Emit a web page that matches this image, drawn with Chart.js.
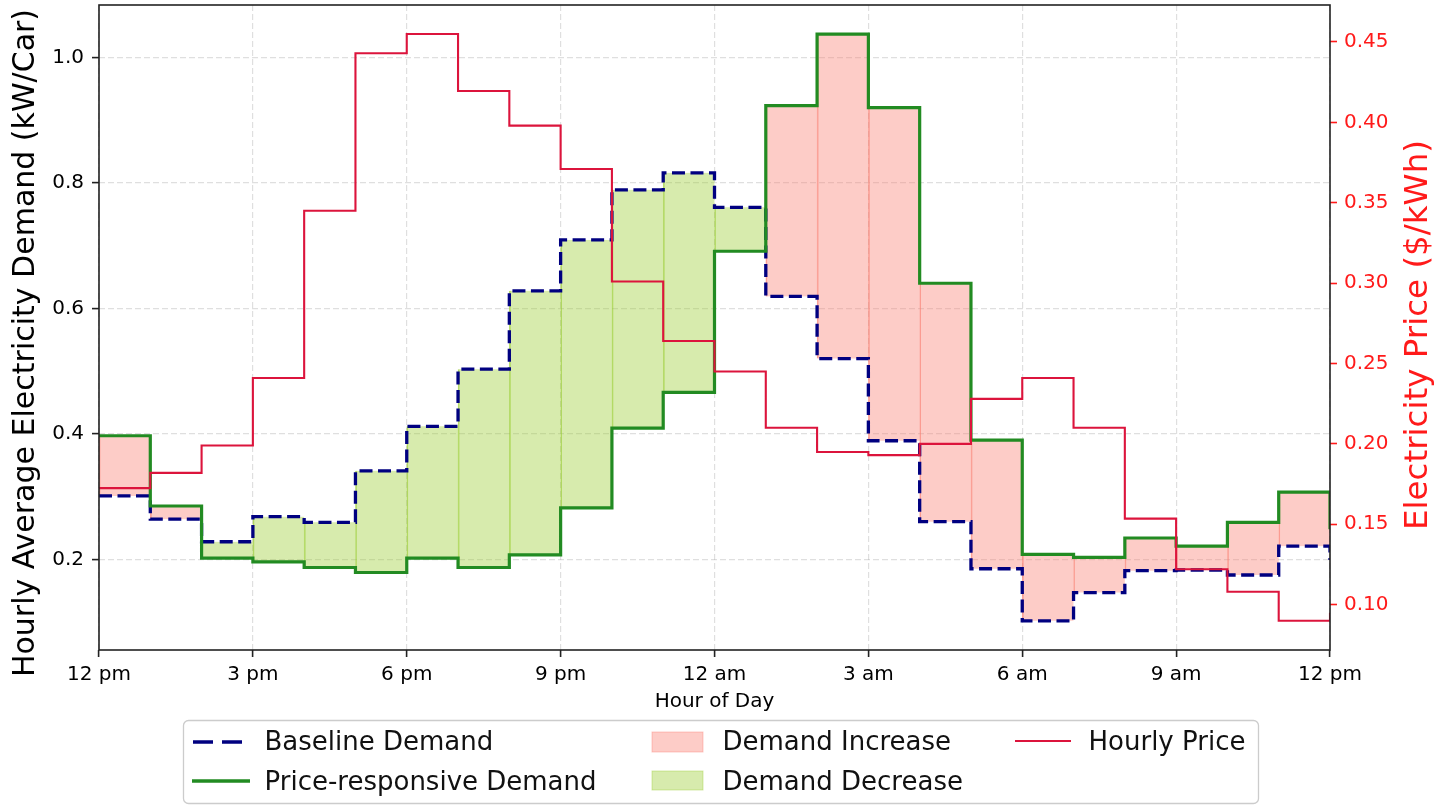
<!DOCTYPE html>
<html>
<head>
<meta charset="utf-8">
<script src="https://cdn.jsdelivr.net/npm/chart.js@4.4.1/dist/chart.umd.min.js"></script>
<style>
  html, body { margin: 0; padding: 0; background: #ffffff; }
  #wrap { position: relative; width: 1437px; height: 805px; overflow: hidden; }
  #chart { position: absolute; left: 0; top: 0; }
  #legend { position: absolute; left: 0; top: 0; pointer-events: none; }
</style>
</head>
<body>
<div id="wrap">
  <canvas id="chart"></canvas>
  <svg id="legend" width="1437" height="805" xmlns="http://www.w3.org/2000/svg"></svg>
</div>
<script>
// ---------------- data ----------------
const hours = [0, 1, 2, 3, 4, 5, 6, 7, 8, 9, 10, 11, 12, 13, 14, 15, 16, 17, 18, 19, 20, 21, 22, 23, 24];
const xTickValues = [0, 3, 6, 9, 12, 15, 18, 21, 24];
const xTickLabels = ['12 pm', '3 pm', '6 pm', '9 pm', '12 am', '3 am', '6 am', '9 am', '12 pm'];
const demandTickValues = [0.2, 0.4, 0.6, 0.8, 1.0];
const demandTickLabels = ['0.2', '0.4', '0.6', '0.8', '1.0'];
const priceTickValues = [0.10, 0.15, 0.20, 0.25, 0.30, 0.35, 0.40, 0.45];
const priceTickLabels = ['0.10', '0.15', '0.20', '0.25', '0.30', '0.35', '0.40', '0.45'];

const baselineDemand = [0.301, 0.264, 0.228, 0.268, 0.259, 0.341, 0.412, 0.503, 0.628, 0.709, 0.789, 0.816,
                        0.761, 0.619, 0.520, 0.389, 0.260, 0.185, 0.102, 0.147, 0.182, 0.183, 0.175, 0.221, 0.199];
const responsiveDemand = [0.397, 0.285, 0.202, 0.196, 0.187, 0.179, 0.202, 0.187, 0.207, 0.282, 0.409, 0.466,
                          0.691, 0.923, 1.037, 0.920, 0.640, 0.390, 0.208, 0.203, 0.234, 0.221, 0.259, 0.307, 0.248];
const hourlyPrice = [0.1725, 0.182, 0.199, 0.241, 0.345, 0.443, 0.455, 0.4195, 0.398, 0.371, 0.301, 0.264,
                     0.245, 0.210, 0.195, 0.193, 0.200, 0.228, 0.241, 0.210, 0.1535, 0.122, 0.108, 0.090, 0.095];

const seriesLabels = ['Baseline Demand', 'Price-responsive Demand', 'Demand Increase', 'Demand Decrease', 'Hourly Price'];
const xTitle = 'Hour of Day';
const demandTitle = 'Hourly Average Electricity Demand (kW/Car)';
const priceTitle = 'Electricity Price ($/kWh)';

// ---------------- derived tables ----------------
const toPoints = vals => hours.map((h, i) => ({ x: h, y: vals[i] }));
const increaseBars = [];
const decreaseBars = [];
for (let i = 0; i < hours.length - 1; i++) {
  const b = baselineDemand[i], r = responsiveDemand[i];
  const item = { x: (hours[i] + hours[i + 1]) / 2, y: [Math.min(b, r), Math.max(b, r)] };
  if (r > b) increaseBars.push(item);
  else if (r < b) decreaseBars.push(item);
}

// ---------------- styles ----------------
const FONT = 'DejaVu Sans';
const C_BASE = '#000080';
const C_RESP = '#228B22';
const C_PRICE = '#DC143C';
const C_INC = 'rgba(250,128,114,0.4)';
const C_INC_EDGE = 'rgba(250,128,114,0.7)';
const C_DEC = 'rgba(154,205,50,0.4)';
const C_DEC_EDGE = 'rgba(154,205,50,0.7)';
const GRID = 'rgba(176,176,176,0.4)';

const framePlugin = {
  id: 'frameAndTitles',
  afterDatasetsDraw(chart) {
    const { ctx, chartArea: a } = chart;
    ctx.save();
    ctx.strokeStyle = '#222';
    ctx.lineWidth = 1.6;
    ctx.strokeRect(a.left, a.top, a.right - a.left, a.bottom - a.top);
    ctx.restore();
  },
  afterDraw(chart) {
    const ctx = chart.ctx;
    ctx.save();
    ctx.textAlign = 'center';
    ctx.textBaseline = 'alphabetic';
    ctx.fillStyle = '#000';
    ctx.font = '30px "' + FONT + '"';
    ctx.translate(34, 343);
    ctx.rotate(-Math.PI / 2);
    ctx.fillText(demandTitle, 0, 0);
    ctx.restore();

    ctx.save();
    ctx.textAlign = 'center';
    ctx.textBaseline = 'alphabetic';
    ctx.fillStyle = '#ff1a1a';
    ctx.font = '32.5px "' + FONT + '"';
    ctx.translate(1427, 335);
    ctx.rotate(-Math.PI / 2);
    ctx.fillText(priceTitle, 0, 0);
    ctx.restore();
  }
};

const tickFont = { family: FONT, size: 20 };

new Chart(document.getElementById('chart'), {
  type: 'line',
  data: {
    datasets: [
      {
        type: 'line', label: seriesLabels[4], data: toPoints(hourlyPrice), yAxisID: 'y1',
        borderColor: C_PRICE, borderWidth: 2.1, stepped: true, pointRadius: 0, fill: false, order: 0
      },
      {
        type: 'line', label: seriesLabels[1], data: toPoints(responsiveDemand), yAxisID: 'y',
        borderColor: C_RESP, borderWidth: 3.2, stepped: true, pointRadius: 0, fill: false, order: 1
      },
      {
        type: 'line', label: seriesLabels[0], data: toPoints(baselineDemand), yAxisID: 'y',
        borderColor: C_BASE, borderWidth: 3.3, borderDash: [13, 5.5], stepped: true, pointRadius: 0, fill: false, order: 2
      },
      {
        type: 'bar', label: seriesLabels[2], data: increaseBars, yAxisID: 'y', grouped: false,
        barPercentage: 1, categoryPercentage: 1, backgroundColor: C_INC, borderColor: C_INC_EDGE,
        borderWidth: { left: 1, right: 0, top: 0, bottom: 0 }, borderSkipped: false, order: 3
      },
      {
        type: 'bar', label: seriesLabels[3], data: decreaseBars, yAxisID: 'y', grouped: false,
        barPercentage: 1, categoryPercentage: 1, backgroundColor: C_DEC, borderColor: C_DEC_EDGE,
        borderWidth: { left: 1, right: 0, top: 0, bottom: 0 }, borderSkipped: false, order: 3
      }
    ]
  },
  options: {
    responsive: true,
    maintainAspectRatio: false,
    animation: false,
    events: [],
    layout: { padding: { top: 5, bottom: 85, left: 0, right: 0 } },
    plugins: { legend: { display: false }, tooltip: { enabled: false } },
    scales: {
      x: {
        type: 'linear', min: 0, max: 24, offset: false,
        afterBuildTicks: s => { s.ticks = xTickValues.map(v => ({ value: v })); },
        afterFit: s => { s.height = 70; s.paddingLeft = 0; s.paddingRight = 0; },
        ticks: { autoSkip: false, maxRotation: 0, minRotation: 0, padding: 6, color: '#000', font: tickFont,
                 callback: (v, i) => xTickLabels[i] },
        grid: { offset: false, color: GRID, lineWidth: 1.2, tickLength: 7, tickColor: '#222', tickWidth: 1.6 },
        border: { display: false, dash: [6, 3] },
        title: { display: true, text: xTitle, color: '#000', font: tickFont, padding: { top: 0, bottom: 6 } }
      },
      y: {
        type: 'linear', position: 'left', min: 0.0555, max: 1.0835, beginAtZero: false,
        afterBuildTicks: s => { s.ticks = demandTickValues.map(v => ({ value: v })); },
        afterFit: s => { s.width = 99; s.paddingTop = 0; s.paddingBottom = 0; },
        ticks: { padding: 8, color: '#000', font: tickFont, callback: (v, i) => demandTickLabels[i] },
        grid: { color: GRID, lineWidth: 1.2, tickLength: 7, tickColor: '#222', tickWidth: 1.6 },
        border: { display: false, dash: [6, 3] },
        title: { display: false }
      },
      y1: {
        type: 'linear', position: 'right', min: 0.0718, max: 0.4730, beginAtZero: false,
        afterBuildTicks: s => { s.ticks = priceTickValues.map(v => ({ value: v })); },
        afterFit: s => { s.width = 107; s.paddingTop = 0; s.paddingBottom = 0; },
        ticks: { padding: 7, color: '#ff1a1a', font: tickFont, callback: (v, i) => priceTickLabels[i] },
        grid: { drawOnChartArea: false, tickLength: 7, tickColor: '#ff1a1a', tickWidth: 1.6 },
        border: { display: false },
        title: { display: false }
      }
    }
  },
  plugins: [framePlugin]
});

// ---------------- legend (SVG, real text) ----------------
(function buildLegend() {
  const svg = document.getElementById('legend');
  const NS = 'http://www.w3.org/2000/svg';
  const el = (tag, attrs) => {
    const e = document.createElementNS(NS, tag);
    for (const k in attrs) e.setAttribute(k, attrs[k]);
    svg.appendChild(e);
    return e;
  };
  el('rect', { x: 183.5, y: 720.5, width: 1075, height: 83, rx: 5, ry: 5,
               fill: 'rgba(255,255,255,0.85)', stroke: '#cccccc', 'stroke-width': 1.3 });
  el('line', { x1: 193, y1: 742, x2: 243, y2: 742, stroke: C_BASE, 'stroke-width': 3.3, 'stroke-dasharray': '20 9' });
  el('line', { x1: 192, y1: 781, x2: 250, y2: 781, stroke: C_RESP, 'stroke-width': 3.3 });
  el('rect', { x: 652, y: 732, width: 51, height: 20, fill: C_INC, stroke: C_INC, 'stroke-width': 1 });
  el('rect', { x: 652, y: 771, width: 51, height: 19, fill: C_DEC, stroke: C_DEC, 'stroke-width': 1 });
  el('line', { x1: 1015, y1: 741, x2: 1071, y2: 741, stroke: C_PRICE, 'stroke-width': 2.2 });
  const texts = [
    [seriesLabels[0], 264.5, 750], [seriesLabels[1], 264.5, 790],
    [seriesLabels[2], 722.5, 750], [seriesLabels[3], 722.5, 790],
    [seriesLabels[4], 1088.5, 750]
  ];
  texts.forEach(([t, x, y]) => {
    const e = el('text', { x: x, y: y, 'font-family': FONT, 'font-size': 26, fill: '#111' });
    e.textContent = t;
  });
})();
</script>
</body>
</html>
